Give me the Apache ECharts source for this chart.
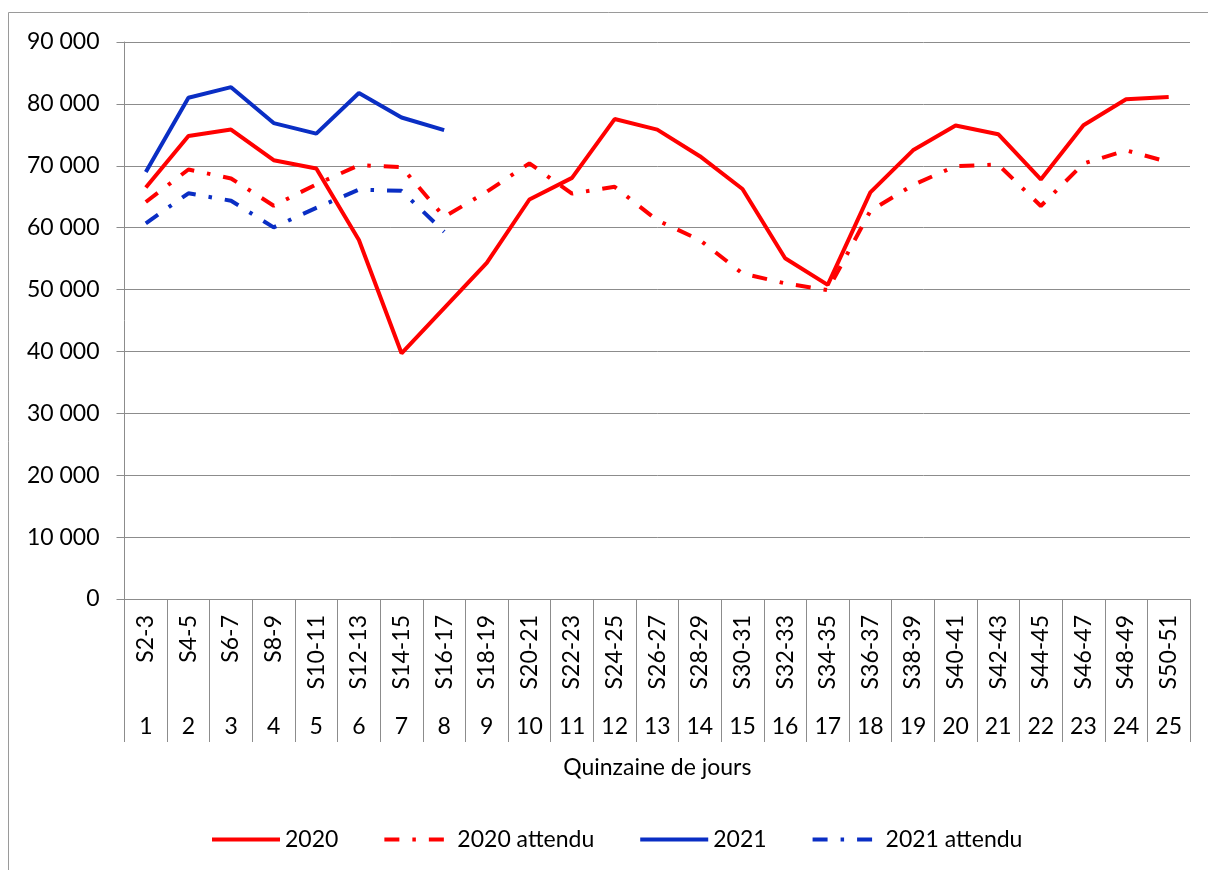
<!DOCTYPE html>
<html>
<head>
<meta charset="utf-8">
<script src="https://cdn.jsdelivr.net/npm/echarts@6/dist/echarts.min.js"></script>
<style>
html,body{margin:0;padding:0;background:#fff;}
#chart{width:1208px;height:870px;}
</style>
</head>
<body>
<div id="chart"></div>
<script>
const weeks = ['S2-3','S4-5','S6-7','S8-9','S10-11','S12-13','S14-15','S16-17','S18-19','S20-21','S22-23','S24-25','S26-27','S28-29','S30-31','S32-33','S34-35','S36-37','S38-39','S40-41','S42-43','S44-45','S46-47','S48-49','S50-51'];
const periodNumbers = ['1','2','3','4','5','6','7','8','9','10','11','12','13','14','15','16','17','18','19','20','21','22','23','24','25'];
const yTicks = [0, 90000, 10000]; // min, max, interval
const s2020 = [66500, 74800, 75850, 70900, 69550, 58000, 39700, 47000, 54300, 64550, 68050, 77550, 75850, 71550, 66250, 55050, 50750, 65700, 72500, 76500, 75100, 67800, 76550, 80750, 81100];
const a2020 = [64150, 69400, 67950, 63550, 67000, 70100, 69800, 61750, 65800, 70400, 65500, 66600, 61200, 58000, 52600, 51000, 49900, 62700, 66900, 69950, 70200, 63500, 70350, 72500, 70600];
const s2021 = [69000, 81000, 82700, 76900, 75200, 81750, 77800, 75750];
const a2021 = [60700, 65550, 64350, 60050, 63200, 66150, 65950, 59350];
const seriesNames = ['2020', '2020 attendu', '2021', '2021 attendu'];
const axisTitle = 'Quinzaine de jours';

const FONT = 'Lato';
const RED = '#FF0000';
const BLUE = '#0A2EC4';
const GRAY = '#8c8c8c';
const DASHDOT = [15, 13, 3.5, 13];

const chart = echarts.init(document.getElementById('chart'), null, {renderer: 'canvas'});

function fmt(v) {
  return String(v).replace(/\B(?=(\d{3})+(?!\d))/g, ' ');
}

const option = {
  animation: false,
  backgroundColor: '#fff',
  textStyle: {fontFamily: FONT},
  graphic: [{
    type: 'rect',
    shape: {x: 8.5, y: 12.5, width: 1220, height: 880},
    style: {fill: 'none', stroke: '#9a9a9a', lineWidth: 1},
    silent: true, z: -10
  }],
  grid: {left: 124.5, right: 18, top: 42, bottom: 271, containLabel: false},
  legend: {
    left: 205, top: 823,
    itemWidth: 68, itemHeight: 14, itemGap: 44,
    itemStyle: {opacity: 0, borderWidth: 0},
    lineStyle: {width: 4},
    textStyle: {fontFamily: FONT, fontSize: 23, color: '#000'},
    data: seriesNames
  },
  xAxis: [{
    type: 'category',
    data: weeks,
    boundaryGap: true,
    position: 'bottom',
    axisLine: {show: true, lineStyle: {color: GRAY, width: 1}},
    axisTick: {show: true, interval: 0, length: 143, lineStyle: {color: GRAY, width: 1}},
    axisLabel: {interval: 0, rotate: 90, margin: 16, fontFamily: FONT, fontSize: 23, color: '#000'},
    splitLine: {show: false},
    name: axisTitle,
    nameLocation: 'middle',
    nameGap: 157,
    nameTextStyle: {fontFamily: FONT, fontSize: 23, color: '#000'}
  }, {
    type: 'category',
    data: periodNumbers,
    boundaryGap: true,
    position: 'bottom',
    axisLine: {show: false},
    axisTick: {show: false},
    axisLabel: {interval: 0, margin: 116, fontFamily: FONT, fontSize: 23, color: '#000'},
    splitLine: {show: false}
  }],
  yAxis: {
    type: 'value',
    min: yTicks[0], max: yTicks[1], interval: yTicks[2],
    axisLine: {show: true, lineStyle: {color: GRAY, width: 1}},
    axisTick: {show: true, length: 8, lineStyle: {color: GRAY, width: 1}},
    axisLabel: {margin: 25, fontFamily: FONT, fontSize: 23, color: '#000', formatter: fmt},
    splitLine: {show: true, lineStyle: {color: GRAY, width: 1}}
  },
  series: [{
    name: seriesNames[0], type: 'line', data: s2020, symbol: 'none',
    lineStyle: {color: RED, width: 4}, itemStyle: {color: RED}, z: 4
  }, {
    name: seriesNames[1], type: 'line', data: a2020, symbol: 'none',
    lineStyle: {color: RED, width: 4, type: DASHDOT}, itemStyle: {color: RED}, z: 3
  }, {
    name: seriesNames[2], type: 'line', data: s2021, symbol: 'none',
    lineStyle: {color: BLUE, width: 4}, itemStyle: {color: BLUE}, z: 4
  }, {
    name: seriesNames[3], type: 'line', data: a2021, symbol: 'none',
    lineStyle: {color: BLUE, width: 4, type: DASHDOT}, itemStyle: {color: BLUE}, z: 3
  }]
};
chart.setOption(option);
</script>
</body>
</html>
